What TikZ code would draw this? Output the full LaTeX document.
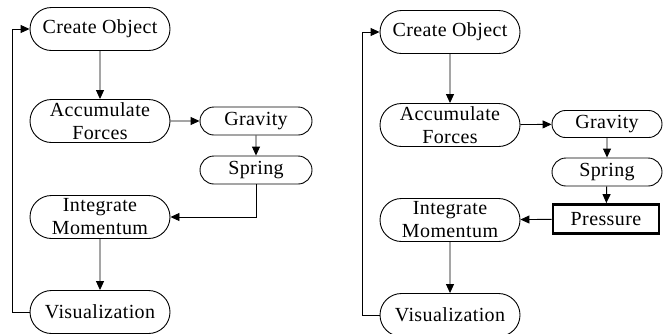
\documentclass[tikz,border=0pt]{standalone}
\usepackage{fontspec}
\setmainfont{Liberation Serif}[LetterSpace=2]
\usetikzlibrary{shapes.misc,arrows.meta}
\begin{document}
\begin{tikzpicture}[x=1pt, y=1pt, line width=0.9pt, >={Triangle[length=9pt,width=8pt]},
    every node/.style={draw, font=\fontsize{20}{23}\selectfont, align=center, inner sep=0pt},
    pill/.style={rounded rectangle, minimum width=140pt, minimum height=43pt},
    small/.style={rounded rectangle, minimum width=112pt, minimum height=28pt},
    box/.style={rectangle, line width=2.8pt, minimum width=106pt, minimum height=29pt}]
            \useasboundingbox (0,0) rectangle (671,-333);
            % left flow
            \node[pill] (co) at (100,-29) {Create Object};
            \node[pill] (af) at (100,-121) {Accumulate\\Forces};
            \node[small] (gr) at (256,-121) {Gravity};
            \node[small] (sp) at (256,-170) {Spring};
            \node[pill] (im) at (100,-217) {Integrate\\Momentum};
            \node[pill] (vi) at (100,-312) {Visualization};

            \draw[->] (co) -- (af);
            \draw[->] (af) -- (gr);
            \draw[->] (gr) -- (sp);
            \draw[->] (sp.south) |- (im.east);
            \draw[->] (im) -- (vi);
            \draw[->] (vi.west) -- ++(-17,0) |- (co.west);

            % right flow
            \node[pill] (co') at (450,-32) {Create Object};
            \node[pill] (af') at (450,-125) {Accumulate\\Forces};
            \node[small, minimum width=110pt, minimum height=27pt] (gr') at (607,-124) {Gravity};
            \node[small, minimum width=110pt] (sp') at (607,-172) {Spring};
            \node[box] (pr') at (606,-219) {Pressure};
            \node[pill] (im') at (450,-220) {Integrate\\Momentum};
            \node[pill] (vi') at (450,-315) {Visualization};

            \draw[->] (co') -- (af');
            \draw[->] (af') -- (gr');
            \draw[->] (gr') -- (sp');
            \draw[->] (sp') -- (pr');
            \draw[->] (pr') -- (im');
            \draw[->] (im') -- (vi');
            \draw[->] (vi'.west) -- ++(-17,0) |- (co'.west);
\end{tikzpicture}
\end{document}
